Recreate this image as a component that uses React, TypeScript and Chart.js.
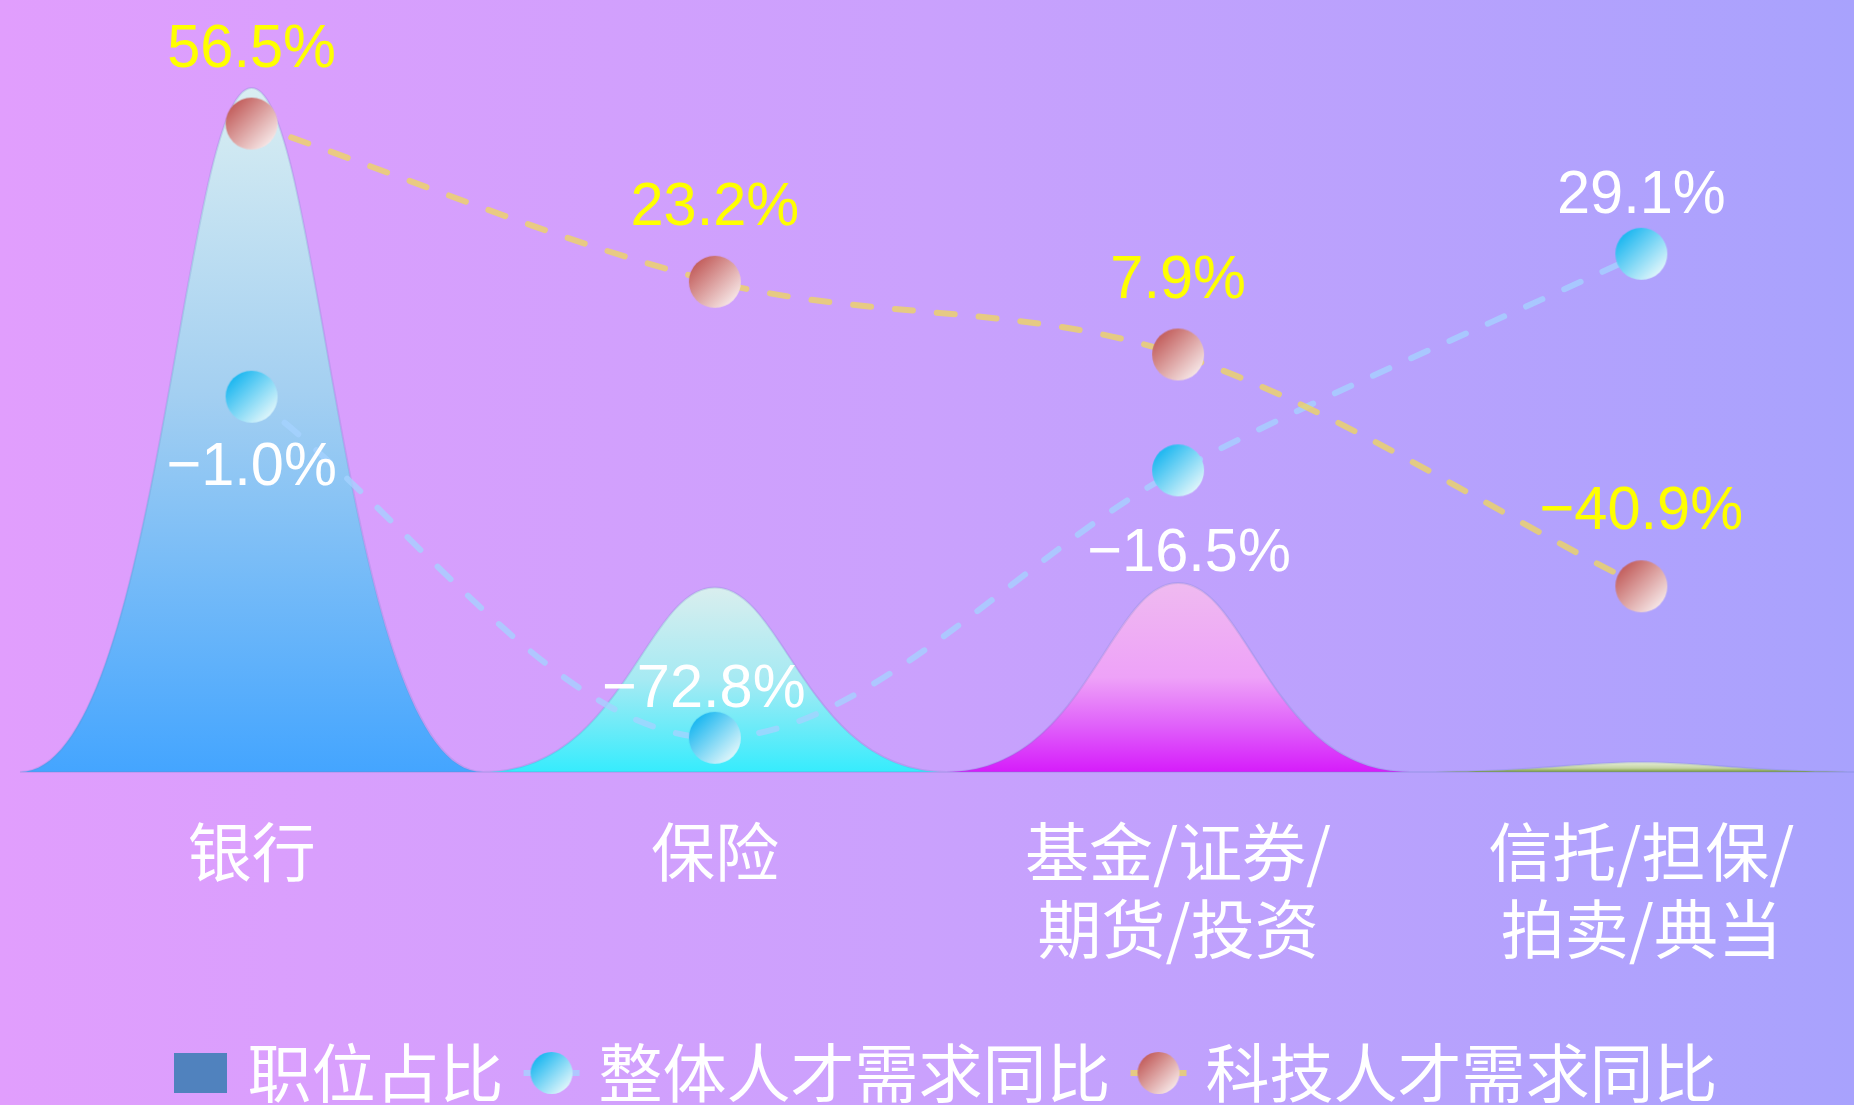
import React, { useEffect, useRef } from 'react';
import { Chart, registerables } from 'chart.js';

Chart.register(...registerables);

// ---------- data ----------
const categories: (string | string[])[] = ['银行', '保险', ['基金/证券/', '期货/投资'], ['信托/担保/', '拍卖/典当']];
const positionShare = [63.0, 17.0, 17.4, 0.9];
const overallDemandYoY = [-1.0, -72.8, -16.5, 29.1];
const techDemandYoY = [56.5, 23.2, 7.9, -40.9];
const seriesNames = ['职位占比', '整体人才需求同比', '科技人才需求同比'];

// ---------- styles ----------
const CANVAS_W = 1892;
const CANVAS_H = 1115;
const CJK = '"Noto Sans CJK SC", "Noto Sans", sans-serif';
const NUM = '"Liberation Sans", Arial, sans-serif';

const bellStops: [number, string][][] = [
  [[0, '#d9eef2'], [0.45, '#a3cff1'], [1, '#44a5ff']],
  [[0, '#d9eeee'], [0.5, '#a6eaf3'], [1, '#36ecfd']],
  [[0, '#efbaf0'], [0.5, '#eea2f8'], [0.75, '#e062fa'], [1, '#d61cfa']],
  [[0, '#e6eed6'], [0.6, '#c4d4a2'], [1, '#789838']],
];

const blueLine = 'rgba(165,210,255,0.78)';
const goldLine = 'rgba(238,214,96,0.78)';
const blueGrad: [string, string] = ['#18b6f0', '#e2f7fb'];
const salmonGrad: [string, string] = ['#c25c5a', '#f7e8e8'];

const blueLabelDx = [0, -11, 11, 0];
const blueLabelDy = [71, -48, 84, -58];
const techLabelDy = [-74, -74, -74, -74];

function fmt(v: number) {
  return (v < 0 ? '\u2212' : '') + Math.abs(v).toFixed(1) + '%';
}

function makeBall(r: number, colors: [string, string], lineColor?: string, lineLen?: number) {
  const w = lineLen ? Math.max(lineLen, 2 * r + 2) : 2 * r + 2;
  const h = 2 * r + 2;
  const c = document.createElement('canvas');
  c.width = w;
  c.height = h;
  const ctx = c.getContext('2d')!;
  const cx = w / 2;
  const cy = h / 2;
  if (lineColor && lineLen) {
    ctx.strokeStyle = lineColor;
    ctx.lineWidth = 6;
    ctx.beginPath();
    ctx.moveTo(1, cy);
    ctx.lineTo(w - 1, cy);
    ctx.stroke();
  }
  const g = ctx.createLinearGradient(cx - r * 0.75, cy - r * 0.75, cx + r * 0.75, cy + r * 0.75);
  g.addColorStop(0, colors[0]);
  g.addColorStop(1, colors[1]);
  ctx.fillStyle = g;
  ctx.beginPath();
  ctx.arc(cx, cy, r, 0, Math.PI * 2);
  ctx.fill();
  return c;
}

function makeBox(w: number, h: number, color: string) {
  const c = document.createElement('canvas');
  c.width = w;
  c.height = h;
  const ctx = c.getContext('2d')!;
  ctx.fillStyle = color;
  ctx.fillRect(0, 0, w, h);
  return c;
}

const bellPlugin = {
  id: 'bells',
  beforeDatasetDraw(chart: any, args: any) {
    if (args.index !== 0) return;
    const meta = chart.getDatasetMeta(0);
    const ctx = chart.ctx as CanvasRenderingContext2D;
    meta.data.forEach((el: any, i: number) => {
      const { x, y, base, width } = el.getProps(['x', 'y', 'base', 'width'], true);
      const l = x - width / 2;
      const w = width;
      const g = ctx.createLinearGradient(0, y, 0, base);
      bellStops[i].forEach(([o, col]) => g.addColorStop(o, col));
      ctx.save();
      ctx.beginPath();
      ctx.moveTo(l, base);
      ctx.bezierCurveTo(l + 0.3 * w, base, l + 0.35 * w, y, x, y);
      ctx.bezierCurveTo(l + 0.65 * w, y, l + 0.7 * w, base, l + w, base);
      ctx.closePath();
      ctx.fillStyle = g;
      ctx.fill();
      ctx.strokeStyle = 'rgba(110,130,200,0.22)';
      ctx.lineWidth = 2;
      ctx.stroke();
      ctx.restore();
    });
    return false;
  },
};

const labelPlugin = {
  id: 'valueLabels',
  afterDatasetsDraw(chart: any) {
    const ctx = chart.ctx as CanvasRenderingContext2D;
    const draw = (text: string, x: number, y: number, color: string) => {
      ctx.save();
      ctx.translate(x, y);
      ctx.scale(0.96, 1);
      ctx.font = `62px ${NUM}`;
      ctx.textAlign = 'center';
      ctx.textBaseline = 'middle';
      ctx.fillStyle = color;
      ctx.fillText(text, 0, 0);
      ctx.restore();
    };
    chart.getDatasetMeta(1).data.forEach((el: any, i: number) => {
      draw(fmt(overallDemandYoY[i]), el.x + blueLabelDx[i], el.y + blueLabelDy[i], '#ffffff');
    });
    chart.getDatasetMeta(2).data.forEach((el: any, i: number) => {
      draw(fmt(techDemandYoY[i]), el.x, el.y + techLabelDy[i], '#ffff00');
    });
  },
};

const legendShift = {
  id: 'legendShift',
  afterLayout(chart: any) {
    if (chart.legend) {
      chart.legend.left += 5;
      chart.legend.right += 5;
    }
  },
};

export default function App() {
  const ref = useRef<HTMLCanvasElement | null>(null);

  useEffect(() => {
    if (!ref.current) return;
    const bluePoint = makeBall(26, blueGrad);
    const salmonPoint = makeBall(26, salmonGrad);
    const legendImgs = [
      makeBox(53, 40, '#5082be'),
      makeBall(21, blueGrad, blueLine, 58),
      makeBall(21, salmonGrad, goldLine, 58),
    ];

    const chart = new Chart(ref.current, {
      type: 'bar',
      data: {
        labels: categories,
        datasets: [
          {
            type: 'bar',
            label: seriesNames[0],
            data: positionShare,
            yAxisID: 'y',
            backgroundColor: '#5082be',
            barPercentage: 1,
            categoryPercentage: 1,
            order: 3,
          },
          {
            type: 'line',
            label: seriesNames[1],
            data: overallDemandYoY,
            yAxisID: 'y1',
            borderColor: blueLine,
            borderWidth: 6,
            borderDash: [18, 24],
            borderCapStyle: 'round',
            cubicInterpolationMode: 'monotone',
            pointStyle: bluePoint as any,
            pointRadius: 26,
            pointHoverRadius: 26,
            fill: false,
            order: 2,
          } as any,
          {
            type: 'line',
            label: seriesNames[2],
            data: techDemandYoY,
            yAxisID: 'y1',
            borderColor: goldLine,
            borderWidth: 6,
            borderDash: [18, 24],
            borderCapStyle: 'round',
            cubicInterpolationMode: 'monotone',
            pointStyle: salmonPoint as any,
            pointRadius: 26,
            pointHoverRadius: 26,
            fill: false,
            order: 1,
          } as any,
        ],
      },
      options: {
        responsive: false,
        animation: false,
        devicePixelRatio: 1,
        events: [],
        layout: { autoPadding: false, padding: { left: 20, right: 19, top: 12, bottom: 0 } },
        scales: {
          x: {
            type: 'category',
            offset: true,
            grid: { display: false, drawTicks: false },
            border: { display: false },
            ticks: {
              color: '#ffffff',
              font: { family: CJK, size: 64, lineHeight: 1.2 },
              padding: 41.2,
              maxRotation: 0,
              autoSkip: false,
            },
          },
          y: {
            type: 'linear',
            display: false,
            min: 0,
            max: 70,
          },
          y1: {
            type: 'linear',
            display: false,
            min: -80,
            max: 80,
          },
        },
        plugins: {
          tooltip: { enabled: false },
          legend: {
            display: true,
            position: 'bottom',
            labels: {
              color: '#ffffff',
              font: { family: CJK, size: 64 },
              usePointStyle: true,
              pointStyleWidth: 30,
              padding: 33,
              generateLabels: (ch: any) =>
                ch.data.datasets.map((ds: any, i: number) => ({
                  text: ds.label,
                  pointStyle: legendImgs[i],
                  fillStyle: 'transparent',
                  strokeStyle: 'transparent',
                  lineWidth: 0,
                  hidden: false,
                  datasetIndex: i,
                  fontColor: '#ffffff',
                })),
            },
          },
        },
      },
      plugins: [bellPlugin, labelPlugin, legendShift],
    } as any);

    return () => chart.destroy();
  }, []);

  return (
    <div
      style={{
        position: 'fixed',
        left: 0,
        top: 0,
        width: 1854,
        height: 1105,
        overflow: 'hidden',
        background: 'linear-gradient(to right, #e19efd 0%, #caa1fd 50%, #a8a2fd 100%)',
      }}
    >
      <canvas
        ref={ref}
        width={CANVAS_W}
        height={CANVAS_H}
        style={{ display: 'block', width: CANVAS_W, height: CANVAS_H }}
      />
    </div>
  );
}
